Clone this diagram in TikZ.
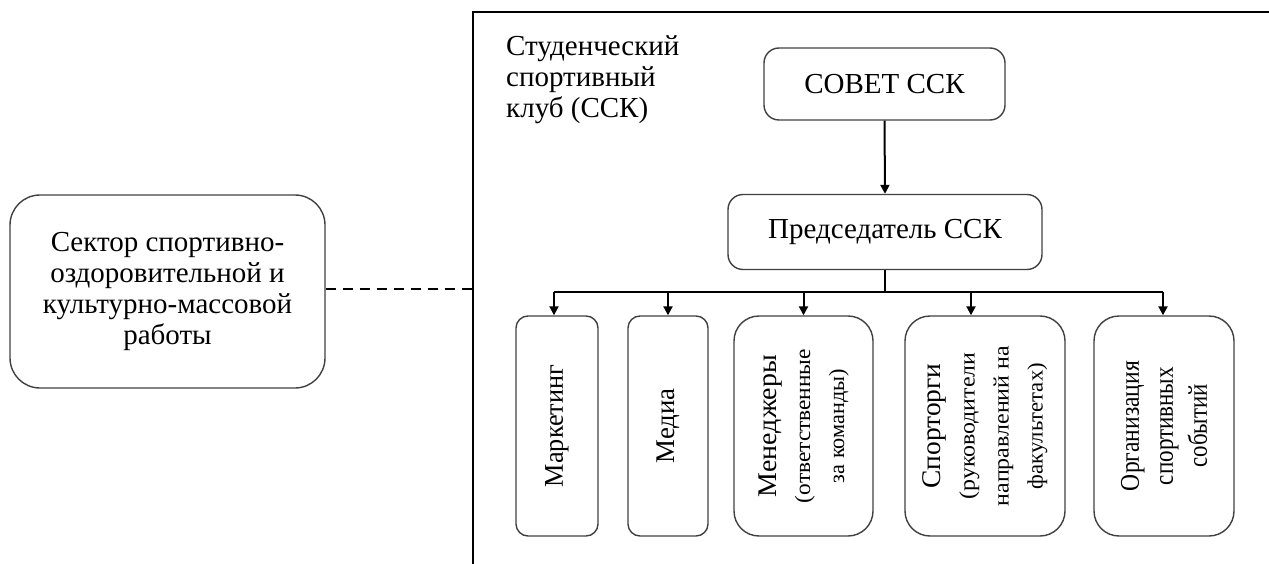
\documentclass[tikz,border=0pt]{standalone}
\usepackage{fontspec}
\setmainfont{Liberation Serif}
\usetikzlibrary{arrows.meta,shapes.misc}
\tikzset{
  box/.style={draw=black!75, line width=1.4pt, rounded corners=#1, align=center, inner sep=0pt,
    font=\fontsize{29}{31}\selectfont},
  box/.default=15pt,
  vbox/.style={box=#1, rotate=90, font=\fontsize{27}{34}\selectfont},
  conn/.style={draw=black, line width=2pt},
  arr/.style={conn, -{Triangle[width=9pt,length=9pt]}},
  frame/.style={draw=black, line width=1.6pt},
}
\newcommand{\fitb}[2]{\resizebox{#1pt}{\height}{#2}}
\newcommand{\fits}[2]{\resizebox{#1pt}{\height}{\fontsize{22}{26}\selectfont #2}}
\begin{document}
\begin{tikzpicture}[x=1pt,y=-1pt]
\useasboundingbox (0,0) rectangle (1269,564);
% frame
\coordinate (ftl) at (473,12);
\coordinate (ftr) at (1275,12);
\coordinate (fbl) at (473,570);
\draw[frame] (ftr) -- (ftl) -- (fbl);
% left sector box
\node[box=30pt, minimum width=315pt, minimum height=193pt] (sector) at (167.5,291.5)
  {Сектор спортивно-\\оздоровительной и\\культурно-массовой\\работы};
\draw[conn, dash pattern=on 10pt off 7pt] ([yshift=3pt]sector.east) -- ([yshift=3pt]sector.east -| ftl);
% club title
\node[anchor=north west, align=left, inner sep=0pt, font=\fontsize{29}{31}\selectfont] (club) at (506,35)
  {Студенческий\\спортивный\\клуб (ССК)};
% top boxes
\node[box, minimum width=241pt, minimum height=72pt] (sovet) at (884.5,84) {СОВЕТ ССК};
\node[box, minimum width=314pt, minimum height=75pt] (pred) at (885,232) {Председатель ССК};
\draw[arr] (sovet.south) -- (pred.north);
% bottom boxes (rotated)
\node[vbox=12pt, minimum width=220pt, minimum height=82pt] (mark) at (557,426) {\fitb{122}{Маркетинг}};
\node[vbox=12pt, minimum width=220pt, minimum height=80pt] (media) at (668,426) {\fitb{75}{Медиа}};
\node[vbox=25pt, minimum width=220pt, minimum height=139pt] (men) at (803.5,426)
  {\fitb{142}{Менеджеры}\\\fits{154}{(ответственные}\\\fits{114}{за команды)}};
\node[vbox=25pt, minimum width=220pt, minimum height=160pt] (sport) at (985,426)
  {\fitb{125}{Спорторги}\\\fits{147}{(руководители}\\\fits{160}{направлений на}\\\fits{126}{факультетах)}};
\node[vbox=25pt, minimum width=220pt, minimum height=140pt] (org) at (1164,426)
  {\fitb{130}{Организация}\\\fitb{118}{спортивных}\\\fitb{83}{событий}};
% bus
\coordinate (busL) at (554,292);
\coordinate (busR) at (1163,292);
\draw[conn] (pred.south) -- (pred.south |- busL);
\draw[conn] (busL) -- (busR);
\draw[arr] (busL) -- (busL |- mark.east);
\draw[arr] (media.east |- busL) -- (media.east);
\draw[arr] (men.east |- busL) -- (men.east);
\draw[arr] ([xshift=-14pt]sport.east |- busL) -- ([xshift=-14pt]sport.east);
\draw[arr] (busR) -- (busR |- org.east);
\end{tikzpicture}
\end{document}
